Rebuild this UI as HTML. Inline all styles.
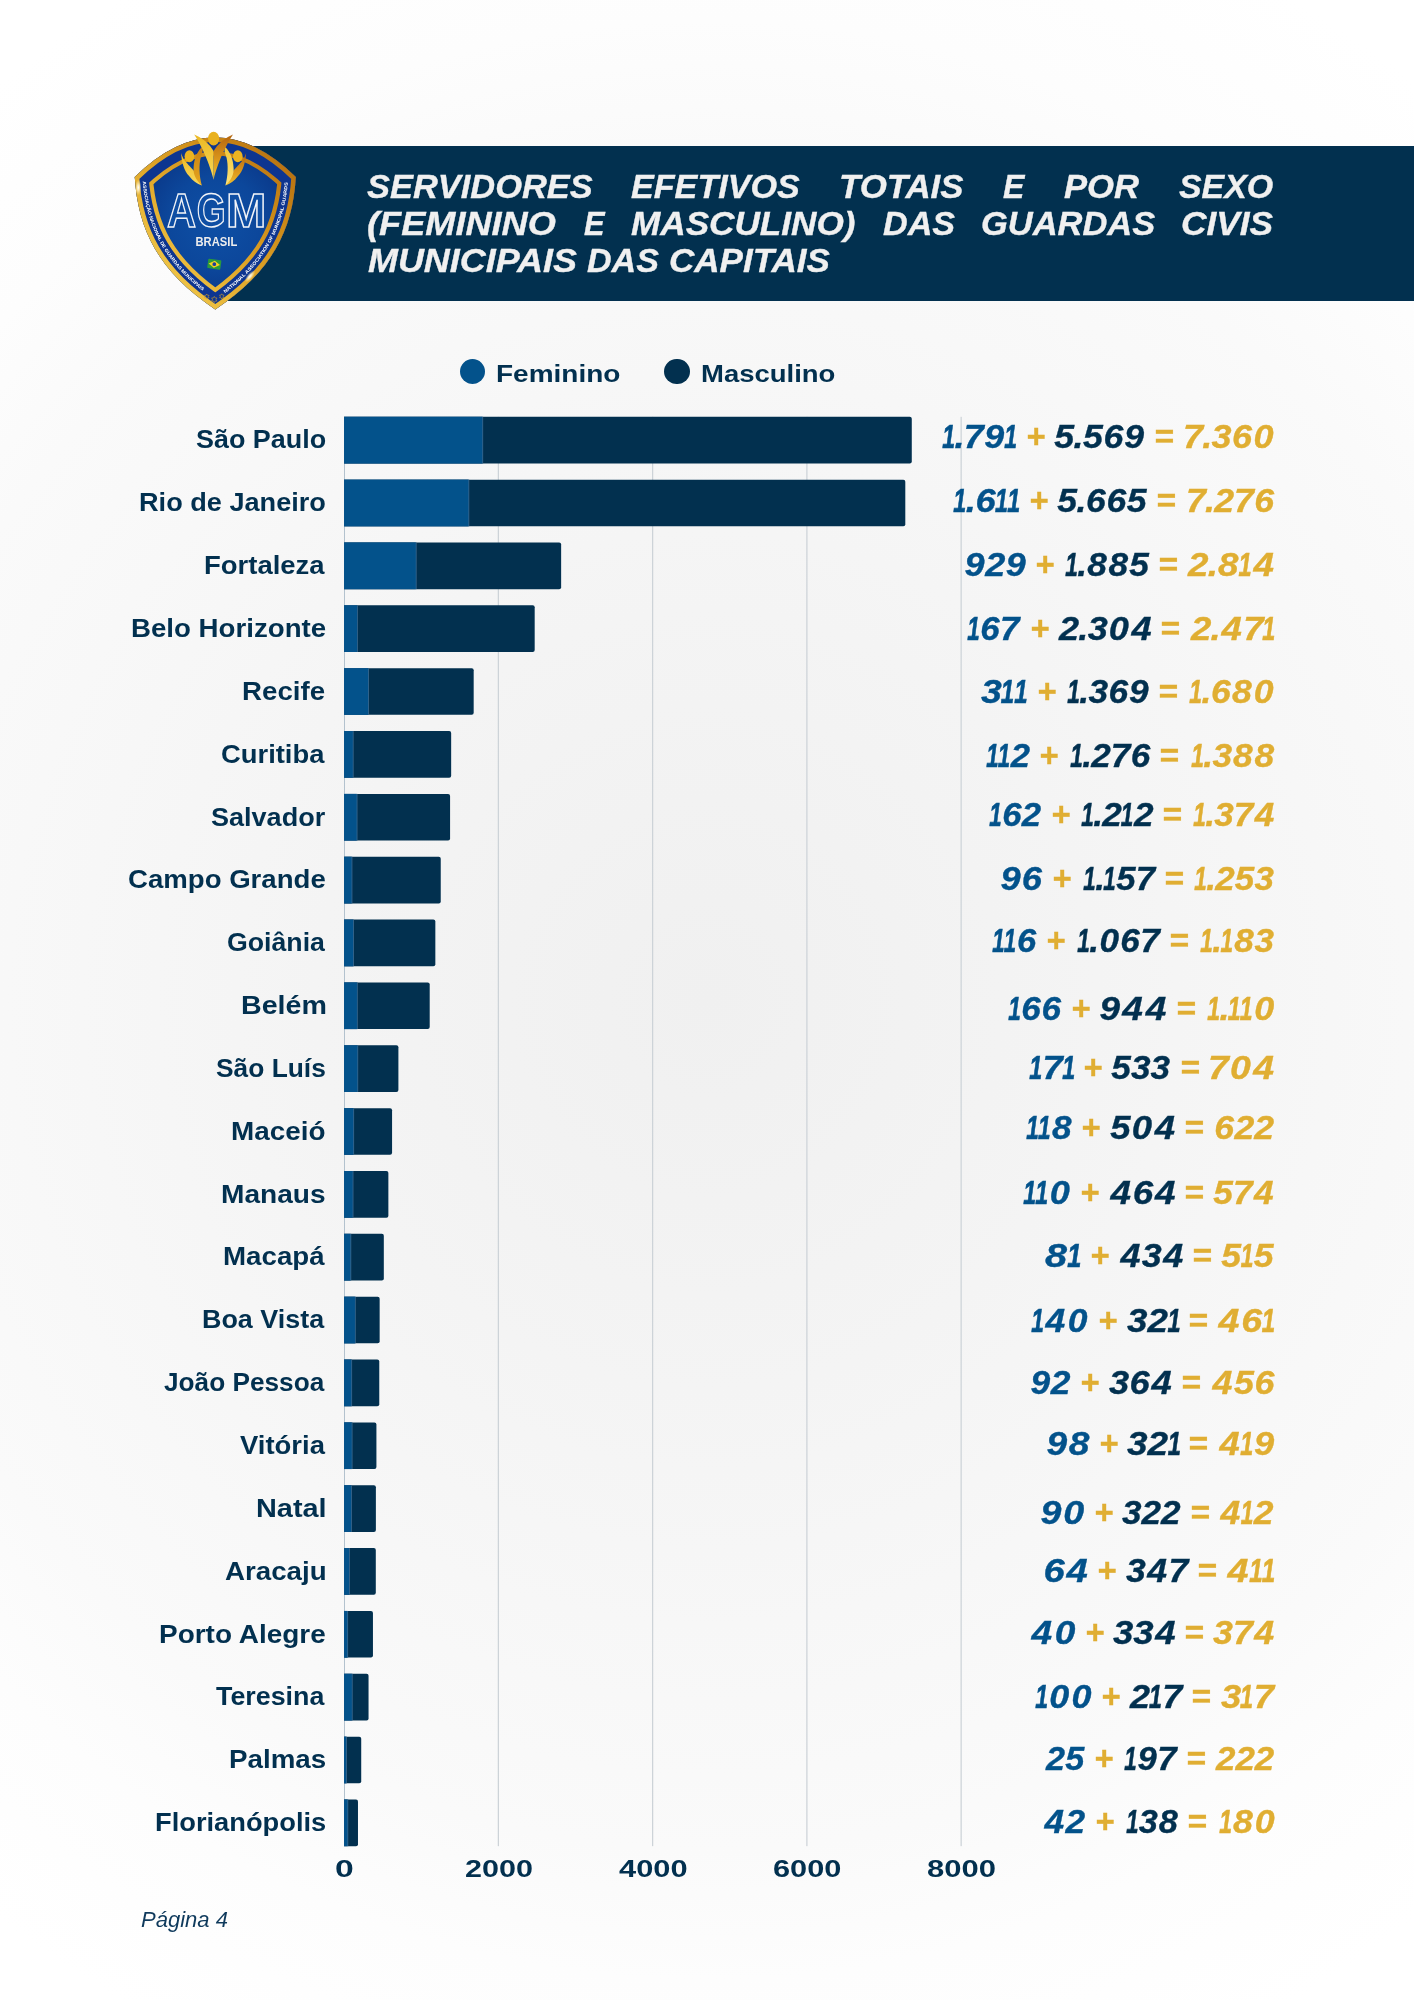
<!DOCTYPE html>
<html lang="pt-BR"><head><meta charset="utf-8"><title>Servidores efetivos - Guardas Civis Municipais das Capitais</title>
<style>
html,body{margin:0;padding:0}
body{width:1414px;height:2000px;position:relative;overflow:hidden;font-family:"Liberation Sans",sans-serif;
background:radial-gradient(circle 1000px at 50% 50%,#f0f0f0 0%,#f2f2f2 20%,#f4f4f4 39%,#f6f6f6 55%,#f8f8f8 70%,#fafafa 85%,#fdfdfd 98%,#fff 116%)}
.t{position:absolute;white-space:nowrap;transform-origin:0 0;display:block}
.label{font:bold 25px/1 'Liberation Sans',sans-serif;}
.num{font:italic bold 33px/1 'Liberation Sans',sans-serif;}
.title{font:italic bold 33px/1 'Liberation Sans',sans-serif;}
.axis{font:bold 24px/1 'Liberation Sans',sans-serif;}
.legend{font:bold 24.5px/1 'Liberation Sans',sans-serif;}
.page{font:italic 22px/1 'Liberation Sans',sans-serif;}
.label,.axis,.legend{color:#02304f}
.title{color:#f0f0f0}
.page{color:#0f3a5c}
.a{color:#03528b}.b{color:#02304f}.c{color:#e0ae32}
.banner{position:absolute;left:214px;top:146px;width:1200px;height:154.5px;background:#02304f}
.pg{position:absolute;left:0;top:0;width:1414px;height:2000px;will-change:transform}
.dot{position:absolute;width:25.2px;height:25.2px;border-radius:50%}
.num,.title{-webkit-text-stroke:.35px}.num i{font-style:inherit}.n1{display:inline-block;transform:scaleX(.64);-webkit-text-stroke:.7px;margin:0 -.09em 0 -.125em}.n0{margin:0 0.03em}.n4{margin:0 0.04em}.n5{margin:0 0.007em}.n6{margin:0 0.01em}.n8{margin:0 0.025em}.n9{margin:0 0.016em}.np{margin:0 -0.02em}
</style></head><body>
<div class="pg">
<div class="banner"></div>
<svg class="logo" style="position:absolute;left:120px;top:120px" width="200" height="200" viewBox="120 120 200 200">
<defs>
<linearGradient id="gd" x1="1" y1="0" x2="0" y2="1"><stop offset="0" stop-color="#ad670d"/><stop offset=".3" stop-color="#cc8a18"/><stop offset=".55" stop-color="#e0a729"/><stop offset=".8" stop-color="#efc446"/><stop offset="1" stop-color="#f6d962"/></linearGradient>
<radialGradient id="bl" cx="215" cy="222" r="84" gradientUnits="userSpaceOnUse"><stop offset="0" stop-color="#0e50a6"/><stop offset=".55" stop-color="#0c479b"/><stop offset="1" stop-color="#0a3585"/></radialGradient>
<linearGradient id="fy" x1="0" y1="0" x2="0" y2="1"><stop offset="0" stop-color="#ecb822"/><stop offset="1" stop-color="#f9d95a"/></linearGradient>
<linearGradient id="fo" x1="0" y1="0" x2="0" y2="1"><stop offset="0" stop-color="#b3640f"/><stop offset=".6" stop-color="#dd9a1c"/><stop offset="1" stop-color="#f0c030"/></linearGradient>
<linearGradient id="fo2" x1="0" y1="0" x2="0" y2="1"><stop offset="0" stop-color="#c98012"/><stop offset="1" stop-color="#e6a820"/></linearGradient>
<linearGradient id="fy2" x1="0" y1="0" x2="0" y2="1"><stop offset="0" stop-color="#f1c73a"/><stop offset="1" stop-color="#fbe27a"/></linearGradient>
<radialGradient id="sp"><stop offset="0" stop-color="#fff" stop-opacity="1"/><stop offset=".35" stop-color="#fff6d8" stop-opacity=".8"/><stop offset="1" stop-color="#ffe9a0" stop-opacity="0"/></radialGradient>
<clipPath id="cp"><path d="M134.750,177 Q215.300,98 295.850,177 C292.600,230.200 271.800,271.800 215.300,309.400 C158.800,271.800 138,230.200 134.750,177 Z"/></clipPath>
<path id="tl" d="M142.700,181.600 C146,222.800 162,259.400 203.300,291.400"/>
<path id="tr" d="M224.900,293.200 L227.300,291.400 C268.600,259.400 284.600,222.800 287.900,181.600"/>
</defs>
<path d="M134.750,177 Q215.300,98 295.850,177 C292.600,230.200 271.800,271.800 215.300,309.400 C158.800,271.800 138,230.200 134.750,177 Z" fill="url(#bl)"/>
<g clip-path="url(#cp)" fill="none" stroke-linejoin="miter">
<path d="M134.750,177 Q215.300,98 295.850,177 C292.600,230.200 271.800,271.800 215.300,309.400 C158.800,271.800 138,230.200 134.750,177 Z" stroke="url(#gd)" stroke-width="36.200"/>
<path d="M134.750,177 Q215.300,98 295.850,177 C292.600,230.200 271.800,271.800 215.300,309.400 C158.800,271.800 138,230.200 134.750,177 Z" stroke="#0d3590" stroke-width="27.800"/>
<path d="M134.750,177 Q215.300,98 295.850,177 C292.600,230.200 271.800,271.800 215.300,309.400 C158.800,271.800 138,230.200 134.750,177 Z" stroke="url(#gd)" stroke-width="9"/>
</g>
<g font-family="Liberation Sans, sans-serif" font-weight="bold" font-size="4.600" fill="#fff">
<text textLength="128.6" lengthAdjust="spacingAndGlyphs"><textPath href="#tl">ASSOCIAÇÃO NACIONAL DE GUARDAS MUNICIPAIS</textPath></text>
<text textLength="131.6" lengthAdjust="spacingAndGlyphs"><textPath href="#tr">NATIONAL ASSOCIATION OF MUNICIPAL GUARDS</textPath></text>
</g>
<path d="M181.100,153 C181.500,161 184,171 189.100,176 C193,181 197,184 201.800,185.500 C198.500,181 196,176 193.700,170.500 C190,167 186,162 184.600,160.600 C183,158 182,155.500 181.100,153 Z" fill="url(#fy)"/>
<path d="M201.800,147.300 C204,150 201.500,154 200.600,158.100 C199,165 199,175 201.800,185.500 C196,180 193,174 193.600,168 C194,159 197,152 201.800,147.300 Z" fill="url(#fo2)"/>
<path d="M246.100,153 C245.700,161 243.200,171 238.100,176 C234.200,181 230.200,184 225.400,185.500 C228.700,181 231.200,176 233.500,170.500 C237.200,167 241.200,162 242.600,160.600 C244.200,158 245.200,155.500 246.100,153 Z" fill="url(#fo)"/>
<path d="M225.400,147.300 C223.200,150 225.700,154 226.600,158.100 C228.200,165 228.200,175 225.400,185.500 C231.200,180 234.200,174 233.600,168 C233.200,159 230.200,152 225.400,147.300 Z" fill="url(#fy2)"/>
<path d="M194.200,134.400 C199,141.500 209,160 213.600,179.700 L213.600,151.100 Q207,139.500 194.200,134.400 Z" fill="url(#fy)"/>
<path d="M233,134.400 C228.200,141.500 218.200,160 213.600,179.700 L213.600,151.100 Q220.200,139.500 233,134.400 Z" fill="url(#fo)"/>
<ellipse cx="189.400" cy="156.200" rx="4.800" ry="6" fill="#ecb320"/><ellipse cx="237.800" cy="156.200" rx="4.800" ry="6" fill="#ecb320"/><ellipse cx="213.600" cy="138.700" rx="5.600" ry="6.900" fill="#e9b11e"/>
<g font-family="Liberation Sans, sans-serif" font-weight="bold" font-size="48" fill="#0e4ea4" stroke="#f2f4f8" stroke-width="1.450">
<text transform="translate(167,226.900) scale(.839,1)">A</text><text transform="translate(196.800,226.900) scale(.773,1)">G</text><text transform="translate(225.900,226.900) scale(1.009,1)">M</text>
</g>
<text x="195.500" y="245.600" font-family="Liberation Sans, sans-serif" font-weight="bold" font-size="12.200" textLength="41.800" lengthAdjust="spacingAndGlyphs" fill="#ededed">BRASIL</text>
<g transform="rotate(8 214.300 264.200)"><rect x="207.700" y="259.500" width="13.200" height="9.400" rx="1" fill="#2a9a3c"/><path d="M214.300,260.600 L220,264.200 L214.300,267.800 L208.600,264.200 Z" fill="#f5d21f"/><circle cx="214.300" cy="264.200" r="1.900" fill="#1d3f9a"/></g>
<g fill="none" stroke="#cf9c2a" stroke-width=".6"><polygon points="206.80,294.00 206.05,295.29 204.55,295.30 205.29,296.60 204.55,297.90 206.05,297.91 206.80,299.20 207.55,297.91 209.05,297.90 208.31,296.60 209.05,295.30 207.55,295.29"/><polygon points="214.30,296.40 213.40,297.94 211.62,297.95 212.50,299.50 211.62,301.05 213.40,301.06 214.30,302.60 215.20,301.06 216.98,301.05 216.10,299.50 216.98,297.95 215.20,297.94"/><polygon points="221.80,293.80 221.05,295.09 219.55,295.10 220.29,296.40 219.55,297.70 221.05,297.71 221.80,299.00 222.55,297.71 224.05,297.70 223.31,296.40 224.05,295.10 222.55,295.09"/></g>
<ellipse cx="138.300" cy="187.500" rx="3.200" ry="8" fill="url(#sp)"/><ellipse cx="250" cy="276.300" rx="3" ry="7.500" transform="rotate(40 250 276.300)" fill="url(#sp)"/>
</svg><span class="t title" style="left:366.62px;top:170.00px;transform:scaleX(1.0431);">SERVIDORES</span><span class="t title" style="left:631.39px;top:170.00px;transform:scaleX(1.0345);">EFETIVOS</span><span class="t title" style="left:838.87px;top:170.00px;transform:scaleX(1.0554);">TOTAIS</span><span class="t title" style="left:1002.52px;top:170.00px;transform:scaleX(0.9694);">E</span><span class="t title" style="left:1064.38px;top:170.00px;transform:scaleX(1.0496);">POR</span><span class="t title" style="left:1178.53px;top:170.00px;transform:scaleX(1.0269);">SEXO</span><span class="t title" style="left:367.08px;top:207.40px;transform:scaleX(1.0961);">(FEMININO</span><span class="t title" style="left:583.54px;top:207.40px;transform:scaleX(0.9337);">E</span><span class="t title" style="left:631.37px;top:207.40px;transform:scaleX(1.0648);">MASCULINO)</span><span class="t title" style="left:882.79px;top:207.40px;transform:scaleX(1.0341);">DAS</span><span class="t title" style="left:981.04px;top:207.40px;transform:scaleX(1.0440);">GUARDAS</span><span class="t title" style="left:1181.20px;top:207.40px;transform:scaleX(1.0689);">CIVIS</span><span class="t title" style="left:367.86px;top:244.40px;transform:scaleX(1.0883);">MUNICIPAIS</span><span class="t title" style="left:586.79px;top:244.40px;transform:scaleX(1.0312);">DAS</span><span class="t title" style="left:668.51px;top:244.40px;transform:scaleX(1.0609);">CAPITAIS</span><div class="dot" style="left:459.8px;top:358.5px;background:#03528b"></div><div class="dot" style="left:664.4px;top:358.5px;background:#02304f"></div><span class="t legend" style="left:495.51px;top:361.70px;transform:scaleX(1.1424);">Feminino</span><span class="t legend" style="left:700.54px;top:361.70px;transform:scaleX(1.1219);">Masculino</span><svg style="position:absolute;left:0;top:0" width="1414" height="2000" viewBox="0 0 1414 2000" shape-rendering="geometricPrecision"><rect x="344.00" y="416.80" width="1" height="1429.35" fill="#b3c2ce"/><rect x="497.74" y="416.80" width="1.25" height="1429.35" fill="#cdd3d8"/><rect x="652.00" y="416.80" width="1.25" height="1429.35" fill="#cdd3d8"/><rect x="806.26" y="416.80" width="1.25" height="1429.35" fill="#cdd3d8"/><rect x="960.52" y="416.80" width="1.25" height="1429.35" fill="#cdd3d8"/><path d="M344.10,416.80H909.78Q911.78,416.80 911.78,418.80V461.45Q911.78,463.45 909.78,463.45H344.10Z" fill="#02304f"/><rect x="344.10" y="416.80" width="139.04" height="46.65" fill="#35658c"/><rect x="344.10" y="416.80" width="138.14" height="46.65" fill="#03528b"/><path d="M344.10,479.65H903.30Q905.30,479.65 905.30,481.65V524.30Q905.30,526.30 903.30,526.30H344.10Z" fill="#02304f"/><rect x="344.10" y="479.65" width="125.16" height="46.65" fill="#35658c"/><rect x="344.10" y="479.65" width="124.26" height="46.65" fill="#03528b"/><path d="M344.10,542.50H559.14Q561.14,542.50 561.14,544.50V587.15Q561.14,589.15 559.14,589.15H344.10Z" fill="#02304f"/><rect x="344.10" y="542.50" width="72.55" height="46.65" fill="#35658c"/><rect x="344.10" y="542.50" width="71.65" height="46.65" fill="#03528b"/><path d="M344.10,605.35H532.69Q534.69,605.35 534.69,607.35V650.00Q534.69,652.00 532.69,652.00H344.10Z" fill="#02304f"/><rect x="344.10" y="605.35" width="13.78" height="46.65" fill="#35658c"/><rect x="344.10" y="605.35" width="12.88" height="46.65" fill="#03528b"/><path d="M344.10,668.20H471.68Q473.68,668.20 473.68,670.20V712.85Q473.68,714.85 471.68,714.85H344.10Z" fill="#02304f"/><rect x="344.10" y="668.20" width="24.89" height="46.65" fill="#35658c"/><rect x="344.10" y="668.20" width="23.99" height="46.65" fill="#03528b"/><path d="M344.10,731.05H449.16Q451.16,731.05 451.16,733.05V775.70Q451.16,777.70 449.16,777.70H344.10Z" fill="#02304f"/><rect x="344.10" y="731.05" width="9.54" height="46.65" fill="#35658c"/><rect x="344.10" y="731.05" width="8.64" height="46.65" fill="#03528b"/><path d="M344.10,793.90H448.08Q450.08,793.90 450.08,795.90V838.55Q450.08,840.55 448.08,840.55H344.10Z" fill="#02304f"/><rect x="344.10" y="793.90" width="13.40" height="46.65" fill="#35658c"/><rect x="344.10" y="793.90" width="12.50" height="46.65" fill="#03528b"/><path d="M344.10,856.75H438.74Q440.74,856.75 440.74,858.75V901.40Q440.74,903.40 438.74,903.40H344.10Z" fill="#02304f"/><rect x="344.10" y="856.75" width="8.30" height="46.65" fill="#35658c"/><rect x="344.10" y="856.75" width="7.40" height="46.65" fill="#03528b"/><path d="M344.10,919.60H433.34Q435.34,919.60 435.34,921.60V964.25Q435.34,966.25 433.34,966.25H344.10Z" fill="#02304f"/><rect x="344.10" y="919.60" width="9.85" height="46.65" fill="#35658c"/><rect x="344.10" y="919.60" width="8.95" height="46.65" fill="#03528b"/><path d="M344.10,982.45H427.71Q429.71,982.45 429.71,984.45V1027.10Q429.71,1029.10 427.71,1029.10H344.10Z" fill="#02304f"/><rect x="344.10" y="982.45" width="13.70" height="46.65" fill="#35658c"/><rect x="344.10" y="982.45" width="12.80" height="46.65" fill="#03528b"/><path d="M344.10,1045.30H396.40Q398.40,1045.30 398.40,1047.30V1089.95Q398.40,1091.95 396.40,1091.95H344.10Z" fill="#02304f"/><rect x="344.10" y="1045.30" width="14.09" height="46.65" fill="#35658c"/><rect x="344.10" y="1045.30" width="13.19" height="46.65" fill="#03528b"/><path d="M344.10,1108.15H390.07Q392.07,1108.15 392.07,1110.15V1152.80Q392.07,1154.80 390.07,1154.80H344.10Z" fill="#02304f"/><rect x="344.10" y="1108.15" width="10.00" height="46.65" fill="#35658c"/><rect x="344.10" y="1108.15" width="9.10" height="46.65" fill="#03528b"/><path d="M344.10,1171.00H386.37Q388.37,1171.00 388.37,1173.00V1215.65Q388.37,1217.65 386.37,1217.65H344.10Z" fill="#02304f"/><rect x="344.10" y="1171.00" width="9.38" height="46.65" fill="#35658c"/><rect x="344.10" y="1171.00" width="8.48" height="46.65" fill="#03528b"/><path d="M344.10,1233.85H381.82Q383.82,1233.85 383.82,1235.85V1278.50Q383.82,1280.50 381.82,1280.50H344.10Z" fill="#02304f"/><rect x="344.10" y="1233.85" width="7.15" height="46.65" fill="#35658c"/><rect x="344.10" y="1233.85" width="6.25" height="46.65" fill="#03528b"/><path d="M344.10,1296.70H377.66Q379.66,1296.70 379.66,1298.70V1341.35Q379.66,1343.35 377.66,1343.35H344.10Z" fill="#02304f"/><rect x="344.10" y="1296.70" width="11.70" height="46.65" fill="#35658c"/><rect x="344.10" y="1296.70" width="10.80" height="46.65" fill="#03528b"/><path d="M344.10,1359.55H377.27Q379.27,1359.55 379.27,1361.55V1404.20Q379.27,1406.20 377.27,1406.20H344.10Z" fill="#02304f"/><rect x="344.10" y="1359.55" width="8.00" height="46.65" fill="#35658c"/><rect x="344.10" y="1359.55" width="7.10" height="46.65" fill="#03528b"/><path d="M344.10,1422.40H374.42Q376.42,1422.40 376.42,1424.40V1467.05Q376.42,1469.05 374.42,1469.05H344.10Z" fill="#02304f"/><rect x="344.10" y="1422.40" width="8.46" height="46.65" fill="#35658c"/><rect x="344.10" y="1422.40" width="7.56" height="46.65" fill="#03528b"/><path d="M344.10,1485.25H373.88Q375.88,1485.25 375.88,1487.25V1529.90Q375.88,1531.90 373.88,1531.90H344.10Z" fill="#02304f"/><rect x="344.10" y="1485.25" width="7.84" height="46.65" fill="#35658c"/><rect x="344.10" y="1485.25" width="6.94" height="46.65" fill="#03528b"/><path d="M344.10,1548.10H373.80Q375.80,1548.10 375.80,1550.10V1592.75Q375.80,1594.75 373.80,1594.75H344.10Z" fill="#02304f"/><rect x="344.10" y="1548.10" width="5.84" height="46.65" fill="#35658c"/><rect x="344.10" y="1548.10" width="4.94" height="46.65" fill="#03528b"/><path d="M344.10,1610.95H370.95Q372.95,1610.95 372.95,1612.95V1655.60Q372.95,1657.60 370.95,1657.60H344.10Z" fill="#02304f"/><rect x="344.10" y="1610.95" width="3.99" height="46.65" fill="#35658c"/><rect x="344.10" y="1610.95" width="3.09" height="46.65" fill="#03528b"/><path d="M344.10,1673.80H366.55Q368.55,1673.80 368.55,1675.80V1718.45Q368.55,1720.45 366.55,1720.45H344.10Z" fill="#02304f"/><rect x="344.10" y="1673.80" width="8.61" height="46.65" fill="#35658c"/><rect x="344.10" y="1673.80" width="7.71" height="46.65" fill="#03528b"/><path d="M344.10,1736.65H359.22Q361.22,1736.65 361.22,1738.65V1781.30Q361.22,1783.30 359.22,1783.30H344.10Z" fill="#02304f"/><rect x="344.10" y="1736.65" width="2.83" height="46.65" fill="#35658c"/><rect x="344.10" y="1736.65" width="1.93" height="46.65" fill="#03528b"/><path d="M344.10,1799.50H355.98Q357.98,1799.50 357.98,1801.50V1844.15Q357.98,1846.15 355.98,1846.15H344.10Z" fill="#02304f"/><rect x="344.10" y="1799.50" width="4.14" height="46.65" fill="#35658c"/><rect x="344.10" y="1799.50" width="3.24" height="46.65" fill="#03528b"/></svg><span class="t label" style="left:195.79px;top:427.40px;transform:scaleX(1.0770);">São Paulo</span><span class="t label" style="left:138.87px;top:490.25px;transform:scaleX(1.0850);">Rio de Janeiro</span><span class="t label" style="left:204.15px;top:553.10px;transform:scaleX(1.0985);">Fortaleza</span><span class="t label" style="left:130.54px;top:615.95px;transform:scaleX(1.1064);">Belo Horizonte</span><span class="t label" style="left:242.44px;top:678.80px;transform:scaleX(1.1076);">Recife</span><span class="t label" style="left:221.20px;top:741.65px;transform:scaleX(1.0946);">Curitiba</span><span class="t label" style="left:211.28px;top:804.50px;transform:scaleX(1.0816);">Salvador</span><span class="t label" style="left:127.99px;top:867.35px;transform:scaleX(1.1034);">Campo Grande</span><span class="t label" style="left:226.74px;top:930.20px;transform:scaleX(1.0679);">Goiânia</span><span class="t label" style="left:240.57px;top:993.05px;transform:scaleX(1.1459);">Belém</span><span class="t label" style="left:216.31px;top:1055.90px;transform:scaleX(1.0537);">São Luís</span><span class="t label" style="left:231.43px;top:1118.75px;transform:scaleX(1.1145);">Maceió</span><span class="t label" style="left:221.41px;top:1181.60px;transform:scaleX(1.1243);">Manaus</span><span class="t label" style="left:223.14px;top:1244.45px;transform:scaleX(1.1079);">Macapá</span><span class="t label" style="left:202.49px;top:1307.30px;transform:scaleX(1.0763);">Boa Vista</span><span class="t label" style="left:164.44px;top:1370.15px;transform:scaleX(1.0484);">João Pessoa</span><span class="t label" style="left:239.55px;top:1433.00px;transform:scaleX(1.0980);">Vitória</span><span class="t label" style="left:256.06px;top:1495.85px;transform:scaleX(1.1553);">Natal</span><span class="t label" style="left:225.14px;top:1558.70px;transform:scaleX(1.1078);">Aracaju</span><span class="t label" style="left:158.92px;top:1621.55px;transform:scaleX(1.1181);">Porto Alegre</span><span class="t label" style="left:216.43px;top:1684.40px;transform:scaleX(1.0734);">Teresina</span><span class="t label" style="left:228.63px;top:1747.25px;transform:scaleX(1.1097);">Palmas</span><span class="t label" style="left:154.76px;top:1810.10px;transform:scaleX(1.0911);">Florianópolis</span><span class="t num a" style="left:943.34px;top:420.40px;transform:scaleX(1.0868);"><i class=n1>1</i><i class=np>.</i>7<i class=n9>9</i><i class=n1>1</i></span><span class="t num c" style="left:1025.83px;top:420.40px;transform:scaleX(0.9946);">+</span><span class="t num b" style="left:1054.18px;top:420.40px;transform:scaleX(1.0809);"><i class=n5>5</i><i class=np>.</i><i class=n5>5</i><i class=n6>6</i><i class=n9>9</i></span><span class="t num c" style="left:1153.60px;top:420.40px;transform:scaleX(1.0183);">=</span><span class="t num c" style="left:1183.42px;top:420.40px;transform:scaleX(1.0915);">7<i class=np>.</i>3<i class=n6>6</i><i class=n0>0</i></span><span class="t num a" style="left:954.34px;top:484.00px;transform:scaleX(1.1001);"><i class=n1>1</i><i class=np>.</i><i class=n6>6</i><i class=n1>1</i><i class=n1>1</i></span><span class="t num c" style="left:1028.72px;top:484.00px;transform:scaleX(0.9946);">+</span><span class="t num b" style="left:1057.48px;top:484.00px;transform:scaleX(1.0763);"><i class=n5>5</i><i class=np>.</i><i class=n6>6</i><i class=n6>6</i><i class=n5>5</i></span><span class="t num c" style="left:1156.40px;top:484.00px;transform:scaleX(1.0183);">=</span><span class="t num c" style="left:1185.95px;top:484.00px;transform:scaleX(1.0788);">7<i class=np>.</i>27<i class=n6>6</i></span><span class="t num a" style="left:963.55px;top:547.70px;transform:scaleX(1.0935);"><i class=n9>9</i>2<i class=n9>9</i></span><span class="t num c" style="left:1034.83px;top:547.70px;transform:scaleX(0.9946);">+</span><span class="t num b" style="left:1066.32px;top:547.70px;transform:scaleX(1.0674);"><i class=n1>1</i><i class=np>.</i><i class=n8>8</i><i class=n8>8</i><i class=n5>5</i></span><span class="t num c" style="left:1157.90px;top:547.70px;transform:scaleX(1.0183);">=</span><span class="t num c" style="left:1188.27px;top:547.70px;transform:scaleX(1.1138);">2<i class=np>.</i><i class=n8>8</i><i class=n1>1</i><i class=n4>4</i></span><span class="t num a" style="left:968.32px;top:611.80px;transform:scaleX(1.0580);"><i class=n1>1</i><i class=n6>6</i>7</span><span class="t num c" style="left:1029.72px;top:611.80px;transform:scaleX(0.9946);">+</span><span class="t num b" style="left:1059.26px;top:611.80px;transform:scaleX(1.0942);">2<i class=np>.</i>3<i class=n0>0</i><i class=n4>4</i></span><span class="t num c" style="left:1160.40px;top:611.80px;transform:scaleX(1.0183);">=</span><span class="t num c" style="left:1190.87px;top:611.80px;transform:scaleX(1.1064);">2<i class=np>.</i><i class=n4>4</i>7<i class=n1>1</i></span><span class="t num a" style="left:981.41px;top:675.00px;transform:scaleX(1.1363);">3<i class=n1>1</i><i class=n1>1</i></span><span class="t num c" style="left:1036.83px;top:675.00px;transform:scaleX(0.9946);">+</span><span class="t num b" style="left:1068.13px;top:675.00px;transform:scaleX(1.0703);"><i class=n1>1</i><i class=np>.</i>3<i class=n6>6</i><i class=n9>9</i></span><span class="t num c" style="left:1157.90px;top:675.00px;transform:scaleX(1.0183);">=</span><span class="t num c" style="left:1190.33px;top:675.00px;transform:scaleX(1.0783);"><i class=n1>1</i><i class=np>.</i><i class=n6>6</i><i class=n8>8</i><i class=n0>0</i></span><span class="t num a" style="left:986.61px;top:738.60px;transform:scaleX(1.0488);"><i class=n1>1</i><i class=n1>1</i>2</span><span class="t num c" style="left:1039.12px;top:738.60px;transform:scaleX(0.9946);">+</span><span class="t num b" style="left:1070.62px;top:738.60px;transform:scaleX(1.0639);"><i class=n1>1</i><i class=np>.</i>27<i class=n6>6</i></span><span class="t num c" style="left:1159.10px;top:738.60px;transform:scaleX(1.0183);">=</span><span class="t num c" style="left:1191.53px;top:738.60px;transform:scaleX(1.0710);"><i class=n1>1</i><i class=np>.</i>3<i class=n8>8</i><i class=n8>8</i></span><span class="t num a" style="left:989.71px;top:798.40px;transform:scaleX(1.0514);"><i class=n1>1</i><i class=n6>6</i>2</span><span class="t num c" style="left:1050.62px;top:798.40px;transform:scaleX(0.9946);">+</span><span class="t num b" style="left:1082.12px;top:798.40px;transform:scaleX(1.0649);"><i class=n1>1</i><i class=np>.</i>2<i class=n1>1</i>2</span><span class="t num c" style="left:1162.10px;top:798.40px;transform:scaleX(1.0183);">=</span><span class="t num c" style="left:1193.62px;top:798.40px;transform:scaleX(1.0634);"><i class=n1>1</i><i class=np>.</i>37<i class=n4>4</i></span><span class="t num a" style="left:1000.44px;top:862.00px;transform:scaleX(1.1013);"><i class=n9>9</i><i class=n6>6</i></span><span class="t num c" style="left:1052.12px;top:862.00px;transform:scaleX(0.9946);">+</span><span class="t num b" style="left:1084.11px;top:862.00px;transform:scaleX(1.0522);"><i class=n1>1</i><i class=np>.</i><i class=n1>1</i><i class=n5>5</i>7</span><span class="t num c" style="left:1164.20px;top:862.00px;transform:scaleX(1.0183);">=</span><span class="t num c" style="left:1195.42px;top:862.00px;transform:scaleX(1.0576);"><i class=n1>1</i><i class=np>.</i>2<i class=n5>5</i>3</span><span class="t num a" style="left:993.01px;top:923.70px;transform:scaleX(1.0463);"><i class=n1>1</i><i class=n1>1</i><i class=n6>6</i></span><span class="t num c" style="left:1046.33px;top:923.70px;transform:scaleX(0.9946);">+</span><span class="t num b" style="left:1078.32px;top:923.70px;transform:scaleX(1.0638);"><i class=n1>1</i><i class=np>.</i><i class=n0>0</i><i class=n6>6</i>7</span><span class="t num c" style="left:1169.20px;top:923.70px;transform:scaleX(1.0183);">=</span><span class="t num c" style="left:1201.22px;top:923.70px;transform:scaleX(1.0628);"><i class=n1>1</i><i class=np>.</i><i class=n1>1</i><i class=n8>8</i>3</span><span class="t num a" style="left:1009.02px;top:992.20px;transform:scaleX(1.0647);"><i class=n1>1</i><i class=n6>6</i><i class=n6>6</i></span><span class="t num c" style="left:1071.03px;top:992.20px;transform:scaleX(0.9946);">+</span><span class="t num b" style="left:1099.01px;top:992.20px;transform:scaleX(1.1222);"><i class=n9>9</i><i class=n4>4</i><i class=n4>4</i></span><span class="t num c" style="left:1175.50px;top:992.20px;transform:scaleX(1.0183);">=</span><span class="t num c" style="left:1207.63px;top:992.20px;transform:scaleX(1.0856);"><i class=n1>1</i><i class=np>.</i><i class=n1>1</i><i class=n1>1</i><i class=n0>0</i></span><span class="t num a" style="left:1029.94px;top:1051.00px;transform:scaleX(1.1002);"><i class=n1>1</i>7<i class=n1>1</i></span><span class="t num c" style="left:1083.22px;top:1051.00px;transform:scaleX(0.9946);">+</span><span class="t num b" style="left:1111.49px;top:1051.00px;transform:scaleX(1.0653);"><i class=n5>5</i>33</span><span class="t num c" style="left:1179.50px;top:1051.00px;transform:scaleX(1.0183);">=</span><span class="t num c" style="left:1208.23px;top:1051.00px;transform:scaleX(1.1318);">7<i class=n0>0</i><i class=n4>4</i></span><span class="t num a" style="left:1026.82px;top:1111.30px;transform:scaleX(1.0659);"><i class=n1>1</i><i class=n1>1</i><i class=n8>8</i></span><span class="t num c" style="left:1081.42px;top:1111.30px;transform:scaleX(0.9946);">+</span><span class="t num b" style="left:1110.27px;top:1111.30px;transform:scaleX(1.1046);"><i class=n5>5</i><i class=n0>0</i><i class=n4>4</i></span><span class="t num c" style="left:1184.40px;top:1111.30px;transform:scaleX(1.0183);">=</span><span class="t num c" style="left:1213.87px;top:1111.30px;transform:scaleX(1.0782);"><i class=n6>6</i>22</span><span class="t num a" style="left:1024.34px;top:1175.70px;transform:scaleX(1.0947);"><i class=n1>1</i><i class=n1>1</i><i class=n0>0</i></span><span class="t num c" style="left:1079.83px;top:1175.70px;transform:scaleX(0.9946);">+</span><span class="t num b" style="left:1108.75px;top:1175.70px;transform:scaleX(1.1155);"><i class=n4>4</i><i class=n6>6</i><i class=n4>4</i></span><span class="t num c" style="left:1183.90px;top:1175.70px;transform:scaleX(1.0183);">=</span><span class="t num c" style="left:1213.39px;top:1175.70px;transform:scaleX(1.0673);"><i class=n5>5</i>7<i class=n4>4</i></span><span class="t num a" style="left:1044.35px;top:1238.60px;transform:scaleX(1.2003);"><i class=n8>8</i><i class=n1>1</i></span><span class="t num c" style="left:1089.53px;top:1238.60px;transform:scaleX(0.9946);">+</span><span class="t num b" style="left:1118.97px;top:1238.60px;transform:scaleX(1.0875);"><i class=n4>4</i>3<i class=n4>4</i></span><span class="t num c" style="left:1192.10px;top:1238.60px;transform:scaleX(1.0183);">=</span><span class="t num c" style="left:1221.48px;top:1238.60px;transform:scaleX(1.0776);"><i class=n5>5</i><i class=n1>1</i><i class=n5>5</i></span><span class="t num a" style="left:1032.43px;top:1303.50px;transform:scaleX(1.0746);"><i class=n1>1</i><i class=n4>4</i><i class=n0>0</i></span><span class="t num c" style="left:1097.92px;top:1303.50px;transform:scaleX(0.9946);">+</span><span class="t num b" style="left:1126.51px;top:1303.50px;transform:scaleX(1.1136);">32<i class=n1>1</i></span><span class="t num c" style="left:1187.60px;top:1303.50px;transform:scaleX(1.0183);">=</span><span class="t num c" style="left:1217.43px;top:1303.50px;transform:scaleX(1.1385);"><i class=n4>4</i><i class=n6>6</i><i class=n1>1</i></span><span class="t num a" style="left:1029.58px;top:1365.90px;transform:scaleX(1.0721);"><i class=n9>9</i>2</span><span class="t num c" style="left:1079.83px;top:1365.90px;transform:scaleX(0.9946);">+</span><span class="t num b" style="left:1108.72px;top:1365.90px;transform:scaleX(1.1003);">3<i class=n6>6</i><i class=n4>4</i></span><span class="t num c" style="left:1181.00px;top:1365.90px;transform:scaleX(1.0183);">=</span><span class="t num c" style="left:1210.57px;top:1365.90px;transform:scaleX(1.0851);"><i class=n4>4</i><i class=n5>5</i><i class=n6>6</i></span><span class="t num a" style="left:1045.50px;top:1426.70px;transform:scaleX(1.1258);"><i class=n9>9</i><i class=n8>8</i></span><span class="t num c" style="left:1098.72px;top:1426.70px;transform:scaleX(0.9946);">+</span><span class="t num b" style="left:1127.01px;top:1426.70px;transform:scaleX(1.1201);">32<i class=n1>1</i></span><span class="t num c" style="left:1188.40px;top:1426.70px;transform:scaleX(1.0183);">=</span><span class="t num c" style="left:1218.16px;top:1426.70px;transform:scaleX(1.1007);"><i class=n4>4</i><i class=n1>1</i><i class=n9>9</i></span><span class="t num a" style="left:1039.88px;top:1495.50px;transform:scaleX(1.1397);"><i class=n9>9</i><i class=n0>0</i></span><span class="t num c" style="left:1093.92px;top:1495.50px;transform:scaleX(0.9946);">+</span><span class="t num b" style="left:1122.42px;top:1495.50px;transform:scaleX(1.0645);">322</span><span class="t num c" style="left:1189.90px;top:1495.50px;transform:scaleX(1.0183);">=</span><span class="t num c" style="left:1219.48px;top:1495.50px;transform:scaleX(1.0739);"><i class=n4>4</i><i class=n1>1</i>2</span><span class="t num a" style="left:1043.44px;top:1553.50px;transform:scaleX(1.1582);"><i class=n6>6</i><i class=n4>4</i></span><span class="t num c" style="left:1097.22px;top:1553.50px;transform:scaleX(0.9946);">+</span><span class="t num b" style="left:1125.72px;top:1553.50px;transform:scaleX(1.0779);">3<i class=n4>4</i>7</span><span class="t num c" style="left:1196.60px;top:1553.50px;transform:scaleX(1.0183);">=</span><span class="t num c" style="left:1226.33px;top:1553.50px;transform:scaleX(1.1435);"><i class=n4>4</i><i class=n1>1</i><i class=n1>1</i></span><span class="t num a" style="left:1029.84px;top:1616.40px;transform:scaleX(1.1225);"><i class=n4>4</i><i class=n0>0</i></span><span class="t num c" style="left:1084.53px;top:1616.40px;transform:scaleX(0.9946);">+</span><span class="t num b" style="left:1113.01px;top:1616.40px;transform:scaleX(1.1081);">33<i class=n4>4</i></span><span class="t num c" style="left:1183.90px;top:1616.40px;transform:scaleX(1.0183);">=</span><span class="t num c" style="left:1213.12px;top:1616.40px;transform:scaleX(1.0848);">37<i class=n4>4</i></span><span class="t num a" style="left:1035.74px;top:1679.50px;transform:scaleX(1.0878);"><i class=n1>1</i><i class=n0>0</i><i class=n0>0</i></span><span class="t num c" style="left:1101.03px;top:1679.50px;transform:scaleX(0.9946);">+</span><span class="t num b" style="left:1129.96px;top:1679.50px;transform:scaleX(1.0916);">2<i class=n1>1</i>7</span><span class="t num c" style="left:1191.20px;top:1679.50px;transform:scaleX(1.0183);">=</span><span class="t num c" style="left:1220.71px;top:1679.50px;transform:scaleX(1.1046);">3<i class=n1>1</i>7</span><span class="t num a" style="left:1045.73px;top:1741.70px;transform:scaleX(1.0350);">2<i class=n5>5</i></span><span class="t num c" style="left:1093.92px;top:1741.70px;transform:scaleX(0.9946);">+</span><span class="t num b" style="left:1125.42px;top:1741.70px;transform:scaleX(1.0531);"><i class=n1>1</i><i class=n9>9</i>7</span><span class="t num c" style="left:1186.10px;top:1741.70px;transform:scaleX(1.0183);">=</span><span class="t num c" style="left:1215.74px;top:1741.70px;transform:scaleX(1.0569);">222</span><span class="t num a" style="left:1043.28px;top:1804.80px;transform:scaleX(1.0692);"><i class=n4>4</i>2</span><span class="t num c" style="left:1094.62px;top:1804.80px;transform:scaleX(0.9946);">+</span><span class="t num b" style="left:1126.61px;top:1804.80px;transform:scaleX(1.0395);"><i class=n1>1</i>3<i class=n8>8</i></span><span class="t num c" style="left:1187.40px;top:1804.80px;transform:scaleX(1.0183);">=</span><span class="t num c" style="left:1219.53px;top:1804.80px;transform:scaleX(1.0819);"><i class=n1>1</i><i class=n8>8</i><i class=n0>0</i></span><span class="t axis" style="left:334.73px;top:1857.10px;transform:scaleX(1.4039);">0</span><span class="t axis" style="left:464.66px;top:1857.10px;transform:scaleX(1.2727);">2000</span><span class="t axis" style="left:618.98px;top:1857.10px;transform:scaleX(1.2837);">4000</span><span class="t axis" style="left:772.61px;top:1857.10px;transform:scaleX(1.2811);">6000</span><span class="t axis" style="left:926.55px;top:1857.10px;transform:scaleX(1.2919);">8000</span><span class="t page" style="left:141.26px;top:1908.80px;transform:scaleX(1.0015);">Página 4</span>
</div>
</body></html>
